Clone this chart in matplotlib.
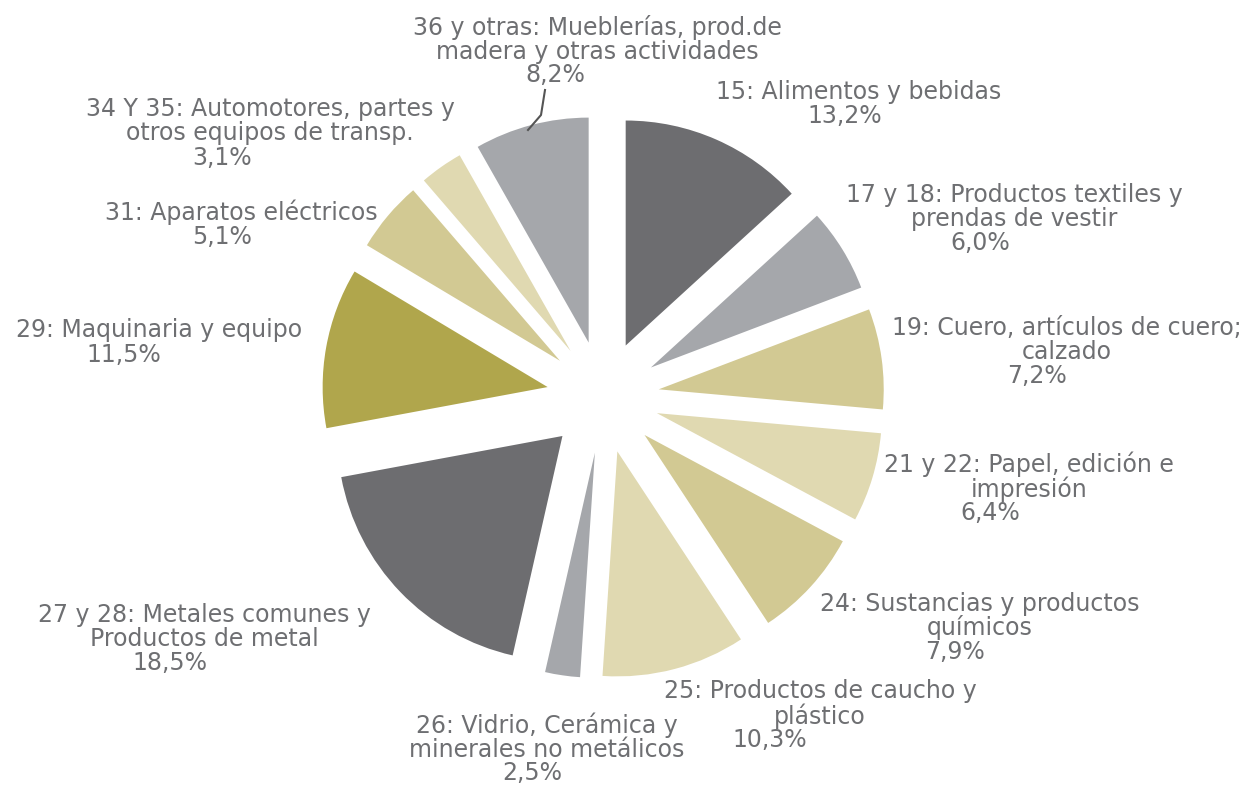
import matplotlib
matplotlib.use("Agg")
import matplotlib.pyplot as plt

# Datos del grafico (porcentaje del valor agregado por rama)
ramas = [
    "15: Alimentos y bebidas",
    "17 y 18: Productos textiles y\nprendas de vestir",
    "19: Cuero, artículos de cuero;\ncalzado",
    "21 y 22: Papel, edición e\nimpresión",
    "24: Sustancias y productos\nquímicos",
    "25: Productos de caucho y\nplástico",
    "26: Vidrio, Cerámica y\nminerales no metálicos",
    "27 y 28: Metales comunes y\nProductos de metal",
    "29: Maquinaria y equipo",
    "31: Aparatos eléctricos",
    "34 Y 35: Automotores, partes y\notros equipos de transp.",
    "36 y otras: Mueblerías, prod.de\nmadera y otras actividades",
]
valores = [13.2, 6.0, 7.2, 6.4, 7.9, 10.3, 2.5, 18.5, 11.5, 5.1, 3.1, 8.2]
colores = ["#6d6d70", "#a5a7ab", "#d2c993", "#e0d9b1", "#d2c993", "#e0d9b1",
           "#a5a7ab", "#6d6d70", "#b0a64c", "#d2c993", "#e0d9b1", "#a5a7ab"]

# posiciones de las etiquetas en pixeles (centro del nombre, centro del porcentaje)
pos_nombre = [(859, 92), (1014, 207), (1067, 340), (1029, 477), (980, 616), (820, 704),
              (547, 737), (204, 627), (159, 330), (241, 212), (270, 121), (597, 40)]
pos_pct = [(845, 116), (980, 243), (1037, 376), (990, 513), (955, 652), (770, 740),
           (532, 773), (170, 663), (124, 355), (222, 237), (222, 158), (555, 75)]

W, H = 1247, 790
cx, cy, R = 603, 397, 225

fig = plt.figure(figsize=(W / 100, H / 100), dpi=100)
ax = fig.add_axes([0, 0, 1, 1])
ax.pie(valores, colors=colores, startangle=90, counterclock=False,
       explode=[0.25] * len(valores), radius=1, wedgeprops=dict(linewidth=0))
ax.set_xlim(-cx / R, (W - cx) / R)
ax.set_ylim(-(H - cy) / R, cy / R)
ax.axis("off")

fuente = ["Liberation Sans Narrow", "DejaVu Sans"]
gris = "#6e6f72"

def a_fig(x, y):
    return x / W, 1 - y / H

for nombre, v, pn, pp in zip(ramas, valores, pos_nombre, pos_pct):
    fx, fy = a_fig(*pn)
    fig.text(fx, fy, nombre, ha="center", va="center", fontsize=17,
             color=gris, family=fuente, linespacing=1.0)
    fx, fy = a_fig(*pp)
    pct = f"{v:.1f}".replace(".", ",") + "%"
    fig.text(fx, fy, pct, ha="center", va="center", fontsize=17,
             color=gris, family=fuente)

# linea guia de la etiqueta 36
lx = [545, 541, 528]
ly = [90, 115, 130]
fig.add_artist(plt.Line2D([x / W for x in lx], [1 - y / H for y in ly],
                          color="#555555", linewidth=1.5))

fig.savefig("out.png", dpi=100)
